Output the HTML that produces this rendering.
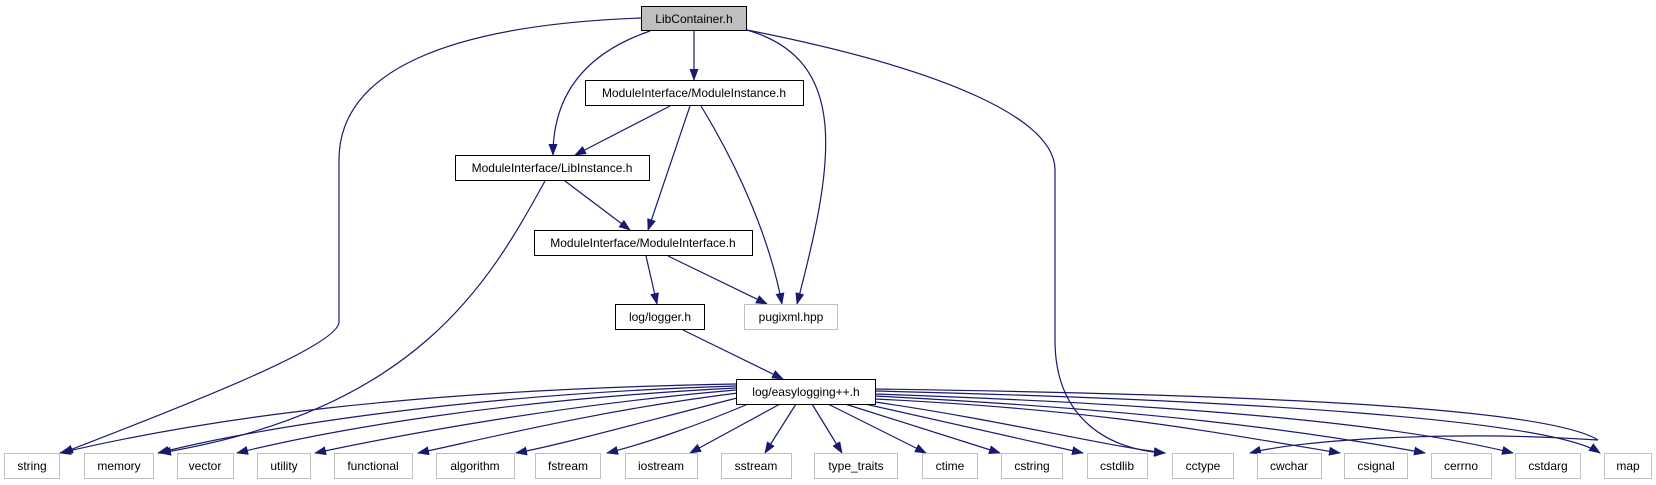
<!DOCTYPE html>
<html><head><meta charset="utf-8"><style>
html,body{margin:0;padding:0;background:#fff;width:1656px;height:485px;overflow:hidden}
svg text{font-family:"Liberation Sans",sans-serif;font-size:12px;fill:#000}
</style></head><body>
<svg width="1656" height="485" viewBox="0 0 1656 485" xmlns="http://www.w3.org/2000/svg">
<defs>
<marker id="a" markerWidth="12" markerHeight="9" refX="11" refY="4.5" orient="auto" markerUnits="userSpaceOnUse">
<path d="M0,0 L12,4.5 L0,9 z" fill="#191970"/></marker>
</defs>
<g fill="none" stroke="#191970" stroke-width="1.2" marker-end="url(#a)">
<!-- LibContainer edges -->
<path d="M641,18 C450,25 339,70 339,160 L339,322 C339,345 200,400 62,453"/>
<path d="M694,31 L694,80"/>
<path d="M650,31 C580,55 553,100 553,155"/>
<path d="M747,30 C850,60 835,160 797,304"/>
<path d="M747,30 C950,70 1055,120 1055,170 L1055,340 C1055,420 1110,450 1165,453"/>
<!-- ModuleInstance -->
<path d="M670,106 L575,155"/>
<path d="M690,106 L648,230"/>
<path d="M701,106 C740,170 770,240 782,304"/>
<!-- LibInstance -->
<path d="M545,181 C490,280 420,410 160,453"/>
<path d="M565,181 L630,230"/>
<!-- ModuleInterface -->
<path d="M646,256 L657,304"/>
<path d="M668,256 L767,304"/>
<!-- logger -->
<path d="M683,330 L783,379"/>
<!-- easylogging to std -->
<path d="M736,384 C400,390 200,420 60,453"/>
<path d="M736,386 C450,395 250,430 158,453"/>
<path d="M736,388 C500,400 330,430 237,453"/>
<path d="M736,390 C560,405 400,435 315,453"/>
<path d="M738,393 C600,410 480,440 418,453"/>
<path d="M745,396 C650,420 560,445 516,453"/>
<path d="M755,401 C700,425 640,445 607,453"/>
<path d="M780,404 L690,453"/>
<path d="M796,404 L765,453"/>
<path d="M812,404 L842,453"/>
<path d="M828,404 L926,453"/>
<path d="M845,404 L1000,453"/>
<path d="M865,404 L1083,453"/>
<path d="M875,402 C1000,420 1100,445 1165,453"/>
<path d="M875,399 C1100,410 1200,430 1340,453"/>
<path d="M875,396 C1150,410 1300,430 1425,453"/>
<path d="M875,394 C1200,405 1400,425 1513,453"/>
<path d="M875,391 C1250,400 1550,420 1600,453"/>
<path d="M875,389 C1300,395 1550,410 1598,440 C1450,430 1300,440 1250,453"/>
</g>
<g stroke-width="1">
<rect x="641.5" y="6.5" width="105" height="24" fill="#bfbfbf" stroke="#000"/>
<rect x="585.5" y="80.5" width="218" height="25" fill="#fff" stroke="#000"/>
<rect x="455.5" y="155.5" width="194" height="25" fill="#fff" stroke="#000"/>
<rect x="534.5" y="230.5" width="218" height="25" fill="#fff" stroke="#000"/>
<rect x="615.5" y="304.5" width="89" height="25" fill="#fff" stroke="#000"/>
<rect x="744.5" y="304.5" width="93" height="25" fill="#fff" stroke="#bfbfbf"/>
<rect x="736.5" y="379.5" width="139" height="25" fill="#fff" stroke="#000"/>
</g>
<g text-anchor="middle">
<text x="694" y="23">LibContainer.h</text>
<text x="694" y="97">ModuleInterface/ModuleInstance.h</text>
<text x="552" y="172">ModuleInterface/LibInstance.h</text>
<text x="643" y="247">ModuleInterface/ModuleInterface.h</text>
<text x="660" y="321">log/logger.h</text>
<text x="791" y="321">pugixml.hpp</text>
<text x="806" y="396">log/easylogging++.h</text>
</g>
<g fill="#fff" stroke="#bfbfbf" stroke-width="1">
<rect x="4.5" y="453.5" width="55" height="25"/>
<rect x="84.5" y="453.5" width="69" height="25"/>
<rect x="177.5" y="453.5" width="56" height="25"/>
<rect x="257.5" y="453.5" width="53" height="25"/>
<rect x="334.5" y="453.5" width="78" height="25"/>
<rect x="436.5" y="453.5" width="78" height="25"/>
<rect x="535.5" y="453.5" width="65" height="25"/>
<rect x="625.5" y="453.5" width="72" height="25"/>
<rect x="721.5" y="453.5" width="70" height="25"/>
<rect x="814.5" y="453.5" width="83" height="25"/>
<rect x="922.5" y="453.5" width="55" height="25"/>
<rect x="1001.5" y="453.5" width="61" height="25"/>
<rect x="1087.5" y="453.5" width="60" height="25"/>
<rect x="1172.5" y="453.5" width="61" height="25"/>
<rect x="1257.5" y="453.5" width="64" height="25"/>
<rect x="1344.5" y="453.5" width="63" height="25"/>
<rect x="1431.5" y="453.5" width="60" height="25"/>
<rect x="1515.5" y="453.5" width="65" height="25"/>
<rect x="1604.5" y="453.5" width="47" height="25"/>
</g>
<g text-anchor="middle">
<text x="32" y="470">string</text>
<text x="119" y="470">memory</text>
<text x="205" y="470">vector</text>
<text x="284" y="470">utility</text>
<text x="373" y="470">functional</text>
<text x="475" y="470">algorithm</text>
<text x="568" y="470">fstream</text>
<text x="661" y="470">iostream</text>
<text x="756" y="470">sstream</text>
<text x="856" y="470">type_traits</text>
<text x="950" y="470">ctime</text>
<text x="1032" y="470">cstring</text>
<text x="1117" y="470">cstdlib</text>
<text x="1203" y="470">cctype</text>
<text x="1289" y="470">cwchar</text>
<text x="1376" y="470">csignal</text>
<text x="1461" y="470">cerrno</text>
<text x="1548" y="470">cstdarg</text>
<text x="1628" y="470">map</text>
</g>
</svg>
</body></html>
